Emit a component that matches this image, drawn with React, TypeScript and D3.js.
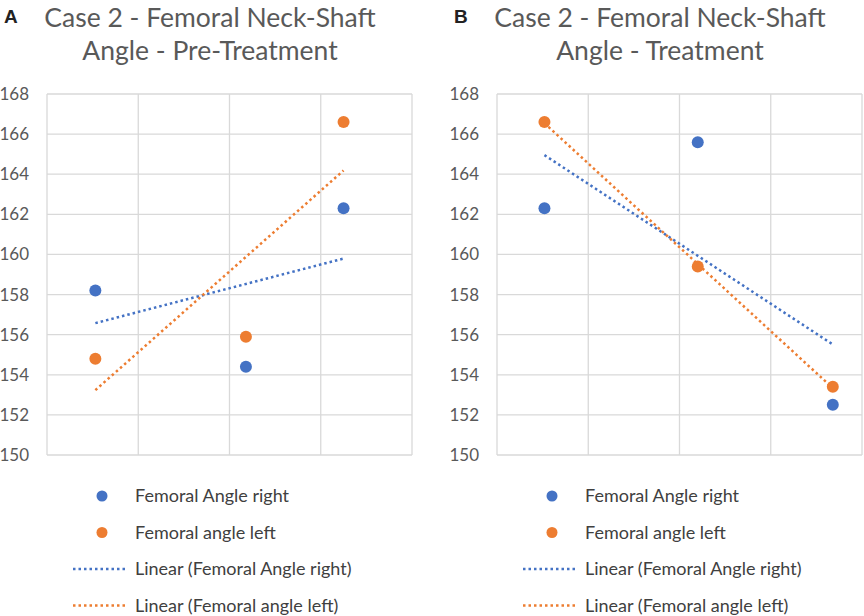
import * as d3 from 'd3';
import React from 'react';

// tick values on the y axis
const yTicks = [150, 152, 154, 156, 158, 160, 162, 164, 166, 168];
// unlabelled vertical grid positions
const xGrid = [0, 1, 2, 3, 4];

// panel A - pre-treatment
const xPre = [0.53, 2.18, 3.25];
const rightPre = [158.2, 154.4, 162.3];
const leftPre = [154.8, 155.9, 166.6];

// panel B - treatment
const xTreat = [0.52, 2.2, 3.68];
const rightTreat = [162.3, 165.6, 152.5];
const leftTreat = [166.6, 159.4, 153.4];

const seriesNames = ['Femoral Angle right', 'Femoral angle left'];
const trendNames = ['Linear (Femoral Angle right)', 'Linear (Femoral angle left)'];
const colors = ['#4472C4', '#ED7D31'];

const FONT = 'Lato, "Noto Sans", sans-serif';

const fit = (xs: number[], ys: number[]) => {
	const mx = d3.mean(xs) as number;
	const my = d3.mean(ys) as number;
	let sxy = 0;
	let sxx = 0;
	xs.forEach((x, i) => {
		sxy += (x - mx) * (ys[i] - my);
		sxx += (x - mx) * (x - mx);
	});
	const slope = sxy / sxx;
	return (x: number) => my + slope * (x - mx);
};

interface PanelProps {
	letter: string;
	title: string[];
	xs: number[];
	right: number[];
	left: number[];
	dx: number;
}

const Panel = ({ letter, title, xs, right, left, dx }: PanelProps) => {
	const x = d3.scaleLinear().domain([0, 4]).range([47, 412]);
	const y = d3.scaleLinear().domain([150, 168]).range([455, 94]);
	const series = [right, left];

	return (
		<g transform={`translate(${dx},0)`}>
			<text x={4} y={23} fontFamily="Arial, 'Liberation Sans', sans-serif" fontWeight="bold" fontSize={19} fill="#222">
				{letter}
			</text>
			{title.map((t, i) => (
				<text key={t} x={210} y={27 + i * 33} textAnchor="middle" fontFamily={FONT} fontSize={26.5} fill="#595959">
					{t}
				</text>
			))}

			{yTicks.map(t => (
				<line key={'h' + t} x1={x(0)} x2={x(4)} y1={y(t)} y2={y(t)} stroke="#d9d9d9" strokeWidth={1.3} />
			))}
			{xGrid.map(t => (
				<line key={'v' + t} x1={x(t)} x2={x(t)} y1={y(168)} y2={y(150)} stroke="#d9d9d9" strokeWidth={1.3} />
			))}
			{yTicks.map(t => (
				<text key={'l' + t} x={29} y={y(t)} dy="0.35em" textAnchor="end" fontFamily={FONT} fontSize={17} fill="#595959">
					{t}
				</text>
			))}

			{series.map((ys, s) => {
				const f = fit(xs, ys);
				const x0 = d3.min(xs) as number;
				const x1 = d3.max(xs) as number;
				return (
					<line
						key={'t' + s}
						x1={x(x0)}
						y1={y(f(x0))}
						x2={x(x1)}
						y2={y(f(x1))}
						stroke={colors[s]}
						strokeWidth={2.5}
						strokeDasharray="2.5 3"
					/>
				);
			})}
			{series.map((ys, s) =>
				ys.map((v, i) => <circle key={'c' + s + i} cx={x(xs[i])} cy={y(v)} r={6} fill={colors[s]} />)
			)}

			{seriesNames.map((n, i) => (
				<g key={n} transform={`translate(0,${496 + i * 36.5})`}>
					<circle cx={102} cy={0} r={5.5} fill={colors[i]} />
					<text x={135} y={0} dy="0.35em" fontFamily={FONT} fontSize={18} fill="#404040">
						{n}
					</text>
				</g>
			))}
			{trendNames.map((n, i) => (
				<g key={n} transform={`translate(0,${569 + i * 36.5})`}>
					<line x1={73} x2={128} y1={0} y2={0} stroke={colors[i]} strokeWidth={2.5} strokeDasharray="2.5 3" />
					<text x={135} y={0} dy="0.35em" fontFamily={FONT} fontSize={18} fill="#404040">
						{n}
					</text>
				</g>
			))}
		</g>
	);
};

export default function App() {
	return (
		<svg width={864} height={616} style={{ position: 'absolute', left: 0, top: 0, background: '#fff' }}>
			<Panel
				letter="A"
				title={['Case 2 - Femoral Neck-Shaft', 'Angle - Pre-Treatment']}
				xs={xPre}
				right={rightPre}
				left={leftPre}
				dx={0}
			/>
			<Panel
				letter="B"
				title={['Case 2 - Femoral Neck-Shaft', 'Angle - Treatment']}
				xs={xTreat}
				right={rightTreat}
				left={leftTreat}
				dx={450}
			/>
		</svg>
	);
}
